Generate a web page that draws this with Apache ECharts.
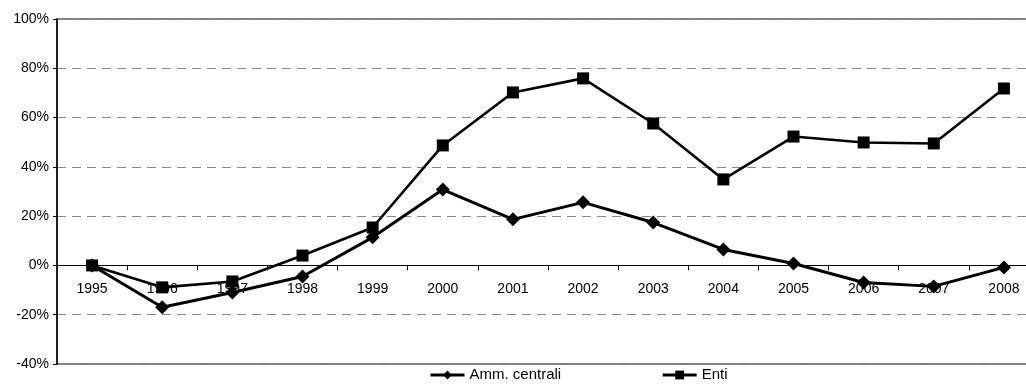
<!DOCTYPE html>
<html><head><meta charset="utf-8">
<script src="https://cdn.jsdelivr.net/npm/echarts@6/dist/echarts.min.js"></script>
<style>html,body{margin:0;padding:0;background:#fff}#c{width:1026px;height:385px}</style>
</head><body><div id="c"></div>
<script>
const categories = ['1995','1996','1997','1998','1999','2000','2001','2002','2003','2004','2005','2006','2007','2008'];
const ammCentrali = [0, -17, -11, -4.5, 11.4, 30.8, 18.7, 25.6, 17.4, 6.5, 0.8, -6.9, -8.5, -0.8];
const enti = [0, -8.9, -6.5, 4, 15.4, 48.7, 70.2, 75.9, 57.6, 34.9, 52.3, 49.9, 49.5, 71.8];
const seriesNames = ['Amm. centrali', 'Enti'];

const chart = echarts.init(document.getElementById('c'), null, {renderer: 'canvas'});
const font = 'Liberation Sans, Arial, sans-serif';
const gridTop = 19, gridHeight = 345, yMin = -40, yMax = 100;
chart.setOption({
  animation: false,
  textStyle: {fontFamily: font},
  grid: {left: 57, top: gridTop, width: 982, height: gridHeight, show: true, borderColor: '#000', borderWidth: 1,
         containLabel: false, outerBoundsMode: 'none'},
  legend: {
    top: 366, left: 429, itemGap: 100, itemWidth: 34, itemHeight: 11, padding: 0,
    lineStyle: {width: 3, color: '#000'},
    textStyle: {fontFamily: font, fontSize: 15, color: '#000', lineHeight: 18},
    data: seriesNames
  },
  xAxis: {
    type: 'category', data: categories, boundaryGap: true, position: 'bottom',
    offset: -gridHeight * (0 - yMin) / (yMax - yMin),
    axisLine: {onZero: false, lineStyle: {color: '#000', width: 1}},
    axisTick: {show: true, alignWithLabel: false, length: 5, inside: false, lineStyle: {color: '#000'}},
    axisLabel: {color: '#000', fontSize: 14, margin: 17, fontFamily: font},
    splitLine: {show: false}
  },
  yAxis: {
    type: 'value', min: yMin, max: yMax, interval: 20,
    axisLine: {show: true, lineStyle: {color: '#000', width: 1.5}},
    axisTick: {show: true, length: 4, lineStyle: {color: '#000'}},
    axisLabel: {color: '#000', fontSize: 14, margin: 8, formatter: '{value}%', fontFamily: font},
    splitLine: {show: true, lineStyle: {color: '#888', type: [9, 6], width: 1}}
  },
  series: [
    {name: seriesNames[0], type: 'line', data: ammCentrali, symbol: 'diamond', symbolSize: 14,
     lineStyle: {color: '#000', width: 3}, itemStyle: {color: '#000'}},
    {name: seriesNames[1], type: 'line', data: enti, symbol: 'rect', symbolSize: 12,
     lineStyle: {color: '#000', width: 2.6}, itemStyle: {color: '#000'}}
  ]
});
</script></body></html>
